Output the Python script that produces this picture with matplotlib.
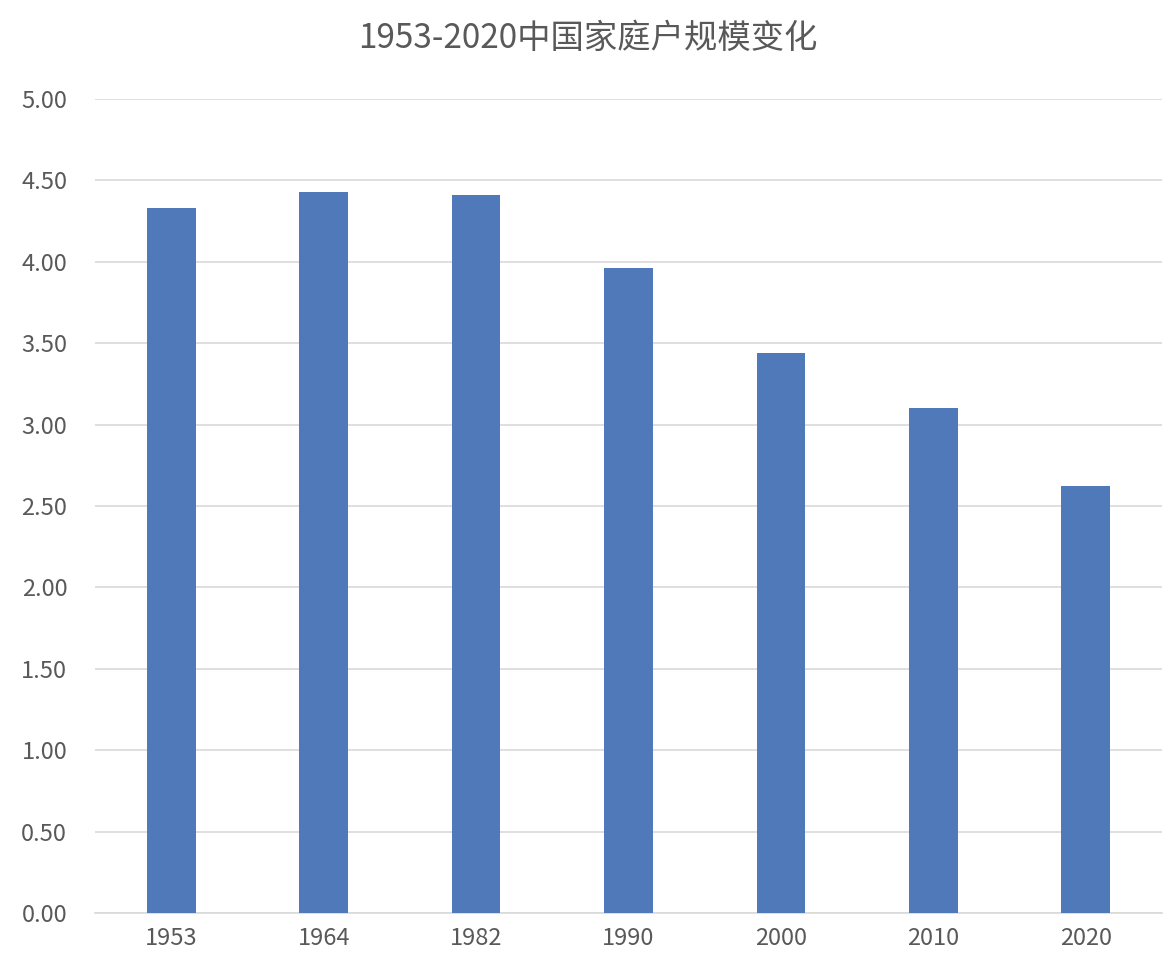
import matplotlib
matplotlib.use("Agg")
import matplotlib.pyplot as plt

plt.rcParams['font.family'] = ['Noto Sans CJK SC', 'DejaVu Sans']

years = ["1953", "1964", "1982", "1990", "2000", "2010", "2020"]
sizes = [4.33, 4.43, 4.41, 3.96, 3.44, 3.10, 2.62]
yticks = [0, 0.5, 1, 1.5, 2, 2.5, 3, 3.5, 4, 4.5, 5]

fig = plt.figure(figsize=(11.76, 9.66), dpi=100)
ax = fig.add_axes([95/1176, 1-913/966, 1067/1176, (913-99)/966])
ax.bar(range(len(years)), sizes, width=0.32, color='#4F79B8', zorder=3)
ax.set_xlim(-0.5, len(years)-0.5)
ax.set_ylim(0, 5)
ax.set_yticks(yticks)
ax.set_yticklabels([f"{v:.2f}" for v in yticks])
ax.set_xticks(range(len(years)))
ax.set_xticklabels(years)
ax.grid(axis='y', color='#D9D9D9', linewidth=1.2, zorder=0)
for s in ['top', 'right', 'left']:
    ax.spines[s].set_visible(False)
ax.spines['bottom'].set_color('#D9D9D9')
ax.spines['bottom'].set_linewidth(1.2)
ax.tick_params(axis='both', length=0, labelsize=17, labelcolor='#595959', pad=10)
ax.tick_params(axis='y', pad=20)
fig.text(0.5, 1-38/966, "1953-2020中国家庭户规模变化", ha='center', va='center',
         fontsize=24, color='#595959')
fig.savefig("out.png", dpi=100, facecolor='white')
